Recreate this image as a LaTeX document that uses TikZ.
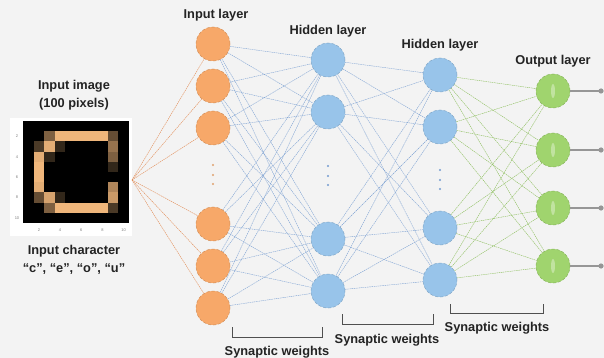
\documentclass[tikz,border=0pt]{standalone}
\usepackage{fontspec}
\setmainfont{Liberation Sans}
\begin{document}
\begin{tikzpicture}[x=1pt,y=-1pt]
\definecolor{bgc}{RGB}{243,243,243}
\definecolor{txtc}{RGB}{35,35,35}
\definecolor{orc}{RGB}{247,168,105}
\definecolor{blc}{RGB}{152,196,234}
\definecolor{grc}{RGB}{160,212,110}
\definecolor{copperhi}{RGB}{252,192,130}
\definecolor{olc}{RGB}{226,140,85}
\definecolor{blinec}{RGB}{115,155,208}
\definecolor{glinec}{RGB}{135,188,85}
\definecolor{graylc}{RGB}{150,150,150}
\tikzset{
  lbl/.style={font=\bfseries\fontsize{12.8}{14}\selectfont, text=txtc, inner sep=0pt},
  tick/.style={font=\fontsize{4}{5}\selectfont, text=gray, inner sep=0pt},
  neuron/.style={circle, minimum size=34pt, inner sep=0pt, line width=0.5pt, densely dashed},
  inpn/.style={neuron, fill=orc, draw=orc!85!black},
  hidn/.style={neuron, fill=blc, draw=blc!85!black},
  outn/.style={neuron, fill=grc, draw=grc!85!black},
  oedge/.style={draw=olc, line width=0.4pt, dash pattern=on 1.5pt off 0.7pt},
  bedge/.style={draw=blinec, line width=0.4pt, dash pattern=on 1.5pt off 0.7pt, opacity=0.9},
  gedge/.style={draw=glinec, line width=0.4pt, dash pattern=on 1.5pt off 0.7pt, opacity=0.95},
  outline/.style={draw=graylc, line width=1.2pt},
  brk/.style={draw=txtc!80, line width=1pt},
  vdot/.style={circle, fill=gray!80, inner sep=0pt, minimum size=2.4pt}
}
\useasboundingbox (0,0) rectangle (604,358);
\fill[bgc] (0,0) rectangle (604,358);

% ---- input image ----
\fill[white] (10,118) rectangle (132,236);
\fill[black] (23,121) rectangle (129,223);
\foreach \c/\r/\v in {2/1/50,3/1/95,4/1/95,5/1/95,6/1/95,7/1/95,8/1/40,
  1/2/30,2/2/90,3/2/20,8/2/60,
  1/3/90,2/3/20,8/3/50,
  1/4/95,8/4/20,
  1/5/95,
  1/6/90,8/6/70,
  1/7/40,2/7/85,3/7/20,8/7/80,
  2/8/50,3/8/95,4/8/95,5/8/95,6/8/95,7/8/95,8/8/30}
  \fill[copperhi!\v!black] ({23+\c*10.6},{121+\r*10.2}) rectangle ++(10.6,10.2);
\foreach \i/\t in {2/2,4/4,6/6,8/8,10/10}{
  \node[tick] (yt\i) at (17,{121+(\i-0.5)*10.2}) {\t};
  \node[tick] (xt\i) at ({23+(\i-0.5)*10.6},230) {\t};
}
\node[lbl] (imgt1) at (74,86) {Input image};
\node[lbl] (imgt2) at (74,104) {(100 pixels)};
\node[lbl] (chart1) at (74,251) {Input character};
\node[lbl] (chart2) at (74,269) {“c”, “e”, “o”, “u”};
\coordinate (imgc) at (132,180);

% ---- neurons ----
\foreach \i/\y in {1/44,2/86,3/128,4/224,5/266,6/308}
  \node[inpn] (i\i) at (213,\y) {};
\foreach \i/\y in {1/60,2/112,3/239,4/291}
  \node[hidn] (h\i) at (328,\y) {};
\foreach \i/\y in {1/75,2/127,3/228,4/280}
  \node[hidn] (k\i) at (440,\y) {};
\foreach \i/\y in {1/91,2/150,3/208,4/266}
  \node[outn] (o\i) at (553,\y) {};
\foreach \i in {1,...,4}
  \fill[white, opacity=0.35] (o\i.center) ellipse (2pt and 7pt);

% ---- dots ----
\foreach \j/\y in {1/165,2/175,3/184}{
  \node[vdot, fill=orc!80!gray] (di\j) at (213,\y) {};
  \node[vdot, fill=blinec] (dh\j) at (328,{\y+1}) {};
  \node[vdot, fill=blinec] (dk\j) at (440,{\y+5}) {};
}

% ---- connections ----
\foreach \i in {1,...,6} \draw[oedge] (imgc) -- (i\i);
\foreach \i in {1,...,6} \foreach \j in {1,...,4} \draw[bedge] (i\i) -- (h\j);
\foreach \i in {1,...,4} \foreach \j in {1,...,4} \draw[bedge] (h\i) -- (k\j);
\foreach \i in {1,...,4} \foreach \j in {1,...,4} \draw[gedge] (k\i) -- (o\j);

% ---- outputs ----
\foreach \i/\y in {1/91,2/150,3/208,4/266}{
  \coordinate (oe\i) at (601,\y);
  \draw[outline] (o\i) -- (oe\i);
  \fill[graylc] (oe\i) circle (2.6pt);
}

% ---- layer labels ----
\node[lbl] (l1) at (216,15) {Input layer};
\node[lbl] (l2) at (328,31) {Hidden layer};
\node[lbl] (l3) at (440,45) {Hidden layer};
\node[lbl] (l4) at (553,61) {Output layer};

% ---- brackets ----
\coordinate (b1a) at (232,327); \coordinate (b1b) at (322,327);
\draw[brk] (b1a) -- ++(0,10) -| (b1b);
\node[lbl] (s1) at (277,352) {Synaptic weights};
\coordinate (b2a) at (342,314); \coordinate (b2b) at (433,314);
\draw[brk] (b2a) -- ++(0,10) -| (b2b);
\node[lbl] (s2) at (387,340) {Synaptic weights};
\coordinate (b3a) at (450,304); \coordinate (b3b) at (543,304);
\draw[brk] (b3a) -- ++(0,9) -| (b3b);
\node[lbl] (s3) at (497,328) {Synaptic weights};
\end{tikzpicture}
\end{document}
